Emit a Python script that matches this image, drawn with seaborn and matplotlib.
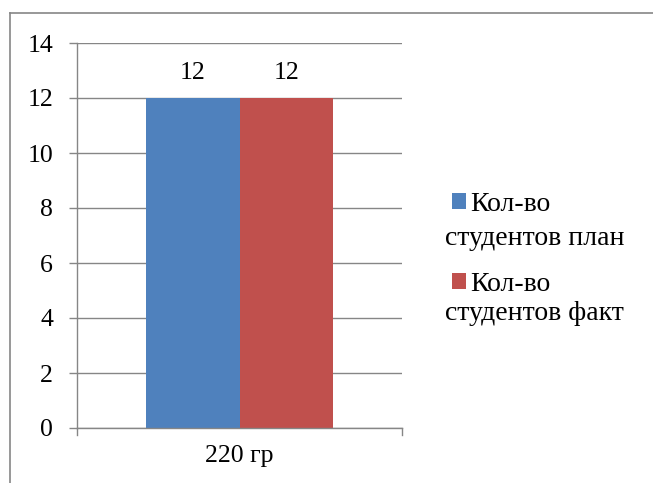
import matplotlib
matplotlib.use("Agg")
import matplotlib.pyplot as plt
import seaborn as sns
import pandas as pd
from matplotlib.patches import Patch
from matplotlib.lines import Line2D
from matplotlib import font_manager as fm

groups = ["220 гр"]
series = ["Кол-во студентов план", "Кол-во студентов факт"]
values_plan = [12]
values_fact = [12]
colors = ["#4F81BD", "#C0504D"]
yticks = [0, 2, 4, 6, 8, 10, 12, 14]

df = pd.DataFrame({
    "group": groups * 2,
    "series": [series[0]] * len(groups) + [series[1]] * len(groups),
    "value": values_plan + values_fact,
})

FS = 18.5
FS_LEG = 20
SERIF_PATH = fm.findfont(fm.FontProperties(family="Liberation Serif"))
def fp(size=FS):
    return fm.FontProperties(fname=SERIF_PATH, size=size)

fig = plt.figure(figsize=(6.53, 4.83), dpi=100)
ax = fig.add_axes([77/653, 1 - 428/483, (402-77)/653, (428-43)/483])

sns.barplot(data=df, x="group", y="value", hue="series", palette=colors,
            width=0.575, ax=ax, legend=False, saturation=1, errorbar=None)
for p in ax.patches:
    p.set_linewidth(0)

ax.set_xlim(-0.5, 0.5)
ax.set_ylim(0, 14)
ax.set_yticks(yticks)
ax.set_yticklabels([str(v) for v in yticks], fontproperties=fp())
ax.set_xticks([0])
ax.set_xticklabels(groups, fontproperties=fp())
ax.set_xlabel("")
ax.set_ylabel("")
ax.tick_params(axis="x", length=0, pad=12)
ax.tick_params(axis="y", length=5.8, width=1, color="#868686", pad=11.5,
               direction="out", left=True)
ax.grid(axis="y", color="#868686", linewidth=1)
ax.set_axisbelow(True)
for s in ["top", "right"]:
    ax.spines[s].set_visible(False)
for s in ["left", "bottom"]:
    ax.spines[s].set_color("#868686")
    ax.spines[s].set_linewidth(1)

for c in ax.containers:
    labs = ax.bar_label(c, labels=[f"{v:g}" for v in c.datavalues], padding=10)
    for t in labs:
        t.set_fontproperties(fp())

for xv in [-0.5, 0.5]:
    ax.plot([xv, xv], [0, -0.25], color="#868686", lw=1, clip_on=False)

handles = [Patch(facecolor=c, edgecolor="none") for c in colors]
leg = fig.legend(handles, ["Кол-во", "Кол-во"], loc="upper left",
                 bbox_to_anchor=(441/653, 1 - 181/483), frameon=False,
                 prop=fp(FS_LEG), handlelength=0.5, handleheight=0.5,
                 handletextpad=0.15, labelspacing=1.98, borderaxespad=0)
fig.text(445/653, 1 - 245/483, "студентов план", fontproperties=fp(FS_LEG),
         ha="left", va="baseline")
fig.text(445/653, 1 - 320/483, "студентов факт", fontproperties=fp(FS_LEG),
         ha="left", va="baseline")

fig.add_artist(Line2D([10/653, 10/653], [0, 1 - 13/483], color="#868686", lw=1.2,
                      transform=fig.transFigure))
fig.add_artist(Line2D([10/653, 1], [1 - 13/483, 1 - 13/483], color="#868686", lw=1.2,
                      transform=fig.transFigure))

fig.savefig("out.png", dpi=100)
